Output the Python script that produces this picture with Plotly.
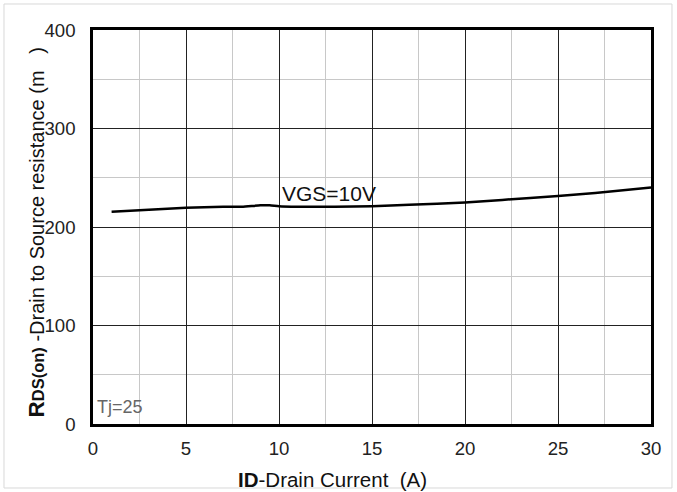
import plotly.graph_objects as go

current_a = [1, 3, 5, 7, 8, 9, 9.5, 10, 11, 12, 13, 15, 17, 20, 22, 25, 27, 30]
rds_mohm = [215.5, 217.5, 219.5, 220.5, 220.5, 222, 222, 221, 220.5, 220.5, 220.5, 221, 222.5, 225, 227.5, 231.5, 234.5, 240]

x_ticks = [0, 5, 10, 15, 20, 25, 30]
y_ticks = [0, 100, 200, 300, 400]

fig = go.Figure()
fig.add_trace(go.Scatter(x=current_a, y=rds_mohm, mode="lines",
                         line=dict(color="black", width=2.5, shape="spline", smoothing=0.6),
                         showlegend=False, hoverinfo="skip"))

font = "Liberation Sans, Arial, sans-serif"
axis_common = dict(showline=True, linecolor="black", linewidth=2.5, mirror=True,
                   showgrid=True, gridcolor="#222", gridwidth=1, zeroline=False,
                   ticks="", tickfont=dict(family=font, size=18.6, color="#222"))

ytitle = ("<b>R<span style='font-size:16.5px'>DS(on)</span></b>"
          "<span style='font-size:20px'> -Drain to Source resistance (m&nbsp;&nbsp;&nbsp;)</span>")

fig.update_layout(
    width=677, height=492,
    margin=dict(l=93, r=26, t=30, b=68),
    paper_bgcolor="white", plot_bgcolor="white",
    font=dict(family=font, color="#111"),
    xaxis=dict(range=[0, 30], tickvals=x_ticks, ticklabelstandoff=6,
               minor=dict(dtick=2.5, showgrid=True, gridcolor="#c8c8c8", gridwidth=1),
               **axis_common),
    yaxis=dict(range=[0, 400], tickvals=y_ticks, ticklabelstandoff=11,
               minor=dict(dtick=50, showgrid=True, gridcolor="#c8c8c8", gridwidth=1),
               **axis_common),
    annotations=[
        dict(x=10.05, y=234.5, xref="x", yref="y", text="VGS=10V", showarrow=False,
             xanchor="left", yanchor="middle", font=dict(size=21, family=font, color="#111")),
        dict(x=0.1, y=17, xref="x", yref="y", text="Tj=25", showarrow=False,
             xanchor="left", yanchor="middle", font=dict(size=18, family=font, color="#666")),
        dict(x=0.43, y=-0.1396, xref="paper", yref="paper", showarrow=False,
             text="<b>ID</b>-Drain Current  (A)", xanchor="center", yanchor="middle",
             font=dict(size=20.5, family=font, color="#111")),
        dict(x=-0.1013, y=0.4873, xref="paper", yref="paper", showarrow=False,
             text=ytitle, textangle=-90, xanchor="center", yanchor="middle",
             font=dict(size=22.5, family=font, color="#111")),
    ],
    shapes=[
        dict(type="rect", xref="paper", yref="paper", x0=-0.1595, x1=1.0376, y0=-0.1624, y1=1.066,
             line=dict(color="#d9d9d9", width=1), layer="below"),
    ],
)

fig.write_html("out.html", config={"displayModeBar": False},
               post_script="document.body.style.margin='0';")
